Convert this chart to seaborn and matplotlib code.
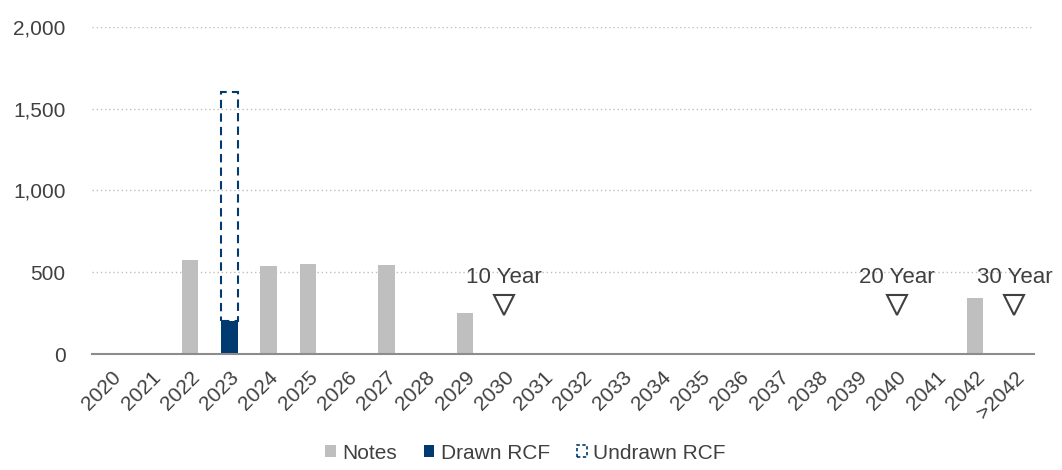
import numpy as np
import pandas as pd
import matplotlib
matplotlib.use("Agg")
import matplotlib.pyplot as plt
from matplotlib.patches import Patch
from matplotlib.ticker import FuncFormatter
import seaborn as sns

# ------------------------
# Data
# ------------------------
years = ['2020', '2021', '2022', '2023', '2024', '2025', '2026', '2027', '2028',
         '2029', '2030', '2031', '2032', '2033', '2034', '2035', '2036', '2037',
         '2038', '2039', '2040', '2041', '2042', '>2042']
notes = [0, 0, 575, 0, 540, 548, 0, 542, 0, 250, 0, 0, 0, 0, 0, 0, 0, 0, 0, 0,
         0, 0, 345, 0]
drawn_rcf = [0, 0, 0, 200, 0, 0, 0, 0, 0, 0, 0, 0, 0, 0, 0, 0, 0, 0, 0, 0,
             0, 0, 0, 0]
undrawn_rcf = [0, 0, 0, 1400, 0, 0, 0, 0, 0, 0, 0, 0, 0, 0, 0, 0, 0, 0, 0, 0,
               0, 0, 0, 0]

tenor_labels = ['10 Year', '20 Year', '30 Year']
tenor_years = ['2030', '2040', '>2042']
tenor_marker_y = 300
tenor_text_y = 465

GREY = '#BFBFBF'
NAVY = '#003A70'
TEXT = '#404040'

# ------------------------
# Plot
# ------------------------
sns.set_style("white")
plt.rcParams['font.family'] = ['Liberation Sans', 'DejaVu Sans']
plt.rcParams['font.size'] = 15
plt.rcParams['text.color'] = TEXT

df = pd.DataFrame({'year': years, 'notes': notes, 'drawn': drawn_rcf,
                   'undrawn': undrawn_rcf})

fig = plt.figure(figsize=(10.62, 4.70), dpi=100)
ax = fig.add_axes([0.0866, 0.2468, 0.887, 0.6958])

sns.barplot(data=df, x='year', y='notes', order=years, color=GREY,
            width=0.42, linewidth=0, edgecolor='none', saturation=1, ax=ax)

drawn = df[df['drawn'] > 0]
sns.barplot(data=drawn, x='year', y='drawn', order=years, color=NAVY,
            width=0.42, linewidth=0, edgecolor='none', saturation=1, ax=ax)

# undrawn part stacked on top of the drawn part, dashed outline only
und = df[df['undrawn'] > 0]
sns.barplot(data=und, x='year', y='undrawn', order=years, fill=False,
            color=NAVY, bottom=und['drawn'].to_numpy(), edgecolor=NAVY,
            linestyle=(0, (4, 2.5)), linewidth=1.5, width=0.42, ax=ax)

# tenor markers
pos = {y: i for i, y in enumerate(years)}
for lab, yr in zip(tenor_labels, tenor_years):
    ax.plot(pos[yr], tenor_marker_y, marker='v', markersize=14,
            markerfacecolor='white', markeredgecolor=TEXT,
            markeredgewidth=1.5, zorder=5)
    ax.text(pos[yr], tenor_text_y, lab, ha='center', va='center',
            fontsize=16, color=TEXT, zorder=5)

ax.set_xlim(-0.5, len(years) - 0.5)
ax.set_ylim(0, 2000)
ax.set_yticks([0, 500, 1000, 1500, 2000])
ax.yaxis.set_major_formatter(FuncFormatter(lambda v, p: f'{int(v):,}'))
ax.yaxis.grid(True, linestyle=(0, (1, 2)), color=GREY, linewidth=1)
ax.set_axisbelow(True)
ax.set_xlabel('')
ax.set_ylabel('')

for s in ['top', 'right', 'left']:
    ax.spines[s].set_visible(False)
ax.spines['bottom'].set_color('#8C8C8C')
ax.spines['bottom'].set_linewidth(1.5)
ax.spines['bottom'].set_zorder(6)

ax.tick_params(axis='y', length=0, pad=19, labelsize=15, labelcolor=TEXT)
ax.tick_params(axis='x', length=0, pad=10, labelsize=15, labelcolor=TEXT)
plt.setp(ax.get_xticklabels(), rotation=45, ha='right',
         rotation_mode='anchor')

handles = [
    Patch(facecolor=GREY, edgecolor='none', label='Notes'),
    Patch(facecolor=NAVY, edgecolor='none', label='Drawn RCF'),
    Patch(facecolor='white', edgecolor=NAVY, linestyle=(0, (2, 1.5)),
          linewidth=1.2, label='Undrawn RCF'),
]
fig.legend(handles=handles, loc='center', bbox_to_anchor=(0.495, 0.036),
           ncol=3, frameon=False, fontsize=15, handlelength=0.5,
           handleheight=0.5, handletextpad=0.3, columnspacing=1.3)

fig.savefig('out.png', dpi=100)
